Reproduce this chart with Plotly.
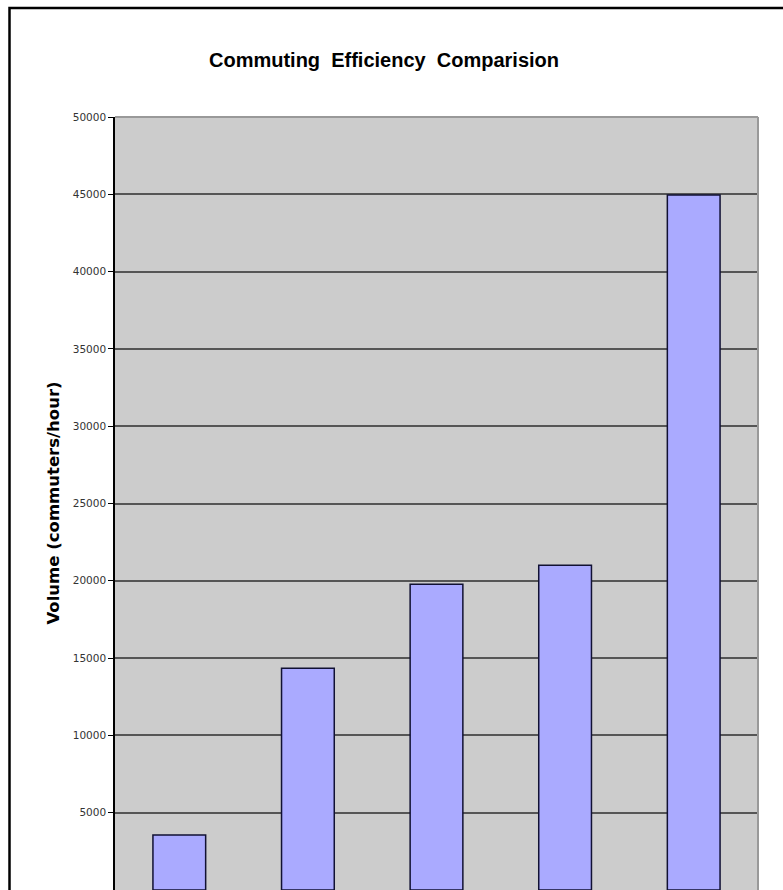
import plotly.graph_objects as go

categories = ["Car", "Bus", "Light Rail", "Commuter Rail", "Subway"]
volumes = [3550, 14350, 19780, 21000, 44950]
y_ticks = [0, 5000, 10000, 15000, 20000, 25000, 30000, 35000, 40000, 45000, 50000]
title_text = "Commuting  Efficiency  Comparision"
y_title = "Volume (commuters/hour)"

W, H = 783, 890
L, R, T, B = 115, 25, 117, 0
pw = W - L - R
ph = H - T - B

fig = go.Figure()
fig.add_trace(go.Bar(
    x=categories, y=volumes,
    marker=dict(color="#AAAAFF", line=dict(color="#111133", width=1.5)),
    showlegend=False,
))

fig.update_layout(
    template="none",
    width=W, height=H,
    margin=dict(l=L, r=R, t=T, b=B, autoexpand=False),
    paper_bgcolor="white",
    plot_bgcolor="#CCCCCC",
    bargap=0.59,
    title=dict(text=title_text, x=384 / W, xref="container", xanchor="center",
               y=1 - 60 / H, yref="container", yanchor="middle",
               font=dict(family="Liberation Sans, Arial, sans-serif", size=20, color="black", weight="bold")),
    xaxis=dict(range=[-0.5, 4.5], showgrid=False, zeroline=False, showline=False,
               ticks="", automargin=False, showticklabels=False),
    yaxis=dict(range=[0, 50000], tickvals=y_ticks, ticktext=[str(v) for v in y_ticks],
               showgrid=True, gridcolor="#555555", gridwidth=1.5,
               zeroline=False, showline=True, linecolor="black", linewidth=1.5,
               ticks="outside", ticklen=5, tickcolor="black", tickwidth=1,
               automargin=False,
               tickfont=dict(family="DejaVu Sans", size=10.5, color="#333")),
    shapes=[
        dict(type="line", xref="paper", yref="paper", x0=0, x1=1, y0=1, y1=1,
             line=dict(color="#999999", width=2), layer="above"),
        dict(type="line", xref="paper", yref="paper", x0=1, x1=1, y0=0, y1=1,
             line=dict(color="#999999", width=2), layer="above"),
        dict(type="rect", xref="paper", yref="paper",
             x0=(9.5 - L) / pw, x1=(W + 20 - L) / pw,
             y0=-0.2, y1=(H - 8 - B) / ph,
             line=dict(color="black", width=2.5), fillcolor="rgba(0,0,0,0)", layer="above"),
    ],
    annotations=[
        dict(text=y_title, textangle=-90, xref="paper", yref="paper",
             x=(53 - L) / pw, y=0.5, xanchor="center", yanchor="middle",
             showarrow=False,
             font=dict(family="DejaVu Sans", size=16.5, color="black", weight="bold")),
    ],
)

fig.write_html("out.html")
